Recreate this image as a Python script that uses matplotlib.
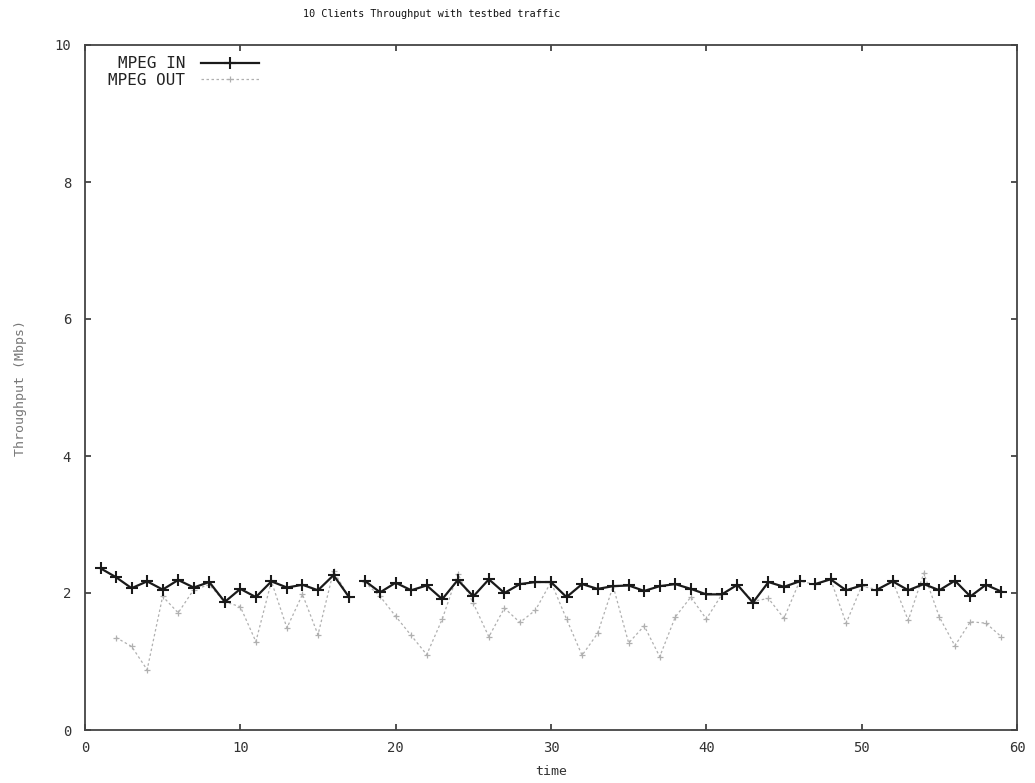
import numpy as np
import matplotlib
matplotlib.use("Agg")
import matplotlib.pyplot as plt

# Sampling instants (s)
time_in = list(range(1, 60))
time_out = list(range(2, 60))

# Measured throughput (Mbps)
mpeg_in = [2.36, 2.23, 2.07, 2.17, 2.05, 2.19, 2.08, 2.16, 1.87, 2.06,
           1.94, 2.17, 2.08, 2.12, 2.04, 2.26, 1.94, 2.18, 2.01, 2.15,
           2.04, 2.11, 1.91, 2.19, 1.95, 2.20, 2.00, 2.13, 2.16, 2.16,
           1.94, 2.13, 2.06, 2.10, 2.11, 2.03, 2.10, 2.13, 2.06, 1.98,
           1.98, 2.12, 1.86, 2.16, 2.09, 2.17, 2.13, 2.20, 2.04, 2.11,
           2.05, 2.17, 2.04, 2.13, 2.04, 2.18, 1.95, 2.12, 2.02]
mpeg_out = [1.35, 1.22, 0.88, 1.95, 1.71, 2.05, 2.12, 1.87, 1.80,
            1.29, 2.17, 1.49, 1.98, 1.39, 2.32, 1.94, 2.16, 1.95, 1.66,
            1.38, 1.10, 1.62, 2.28, 1.85, 1.36, 1.78, 1.57, 1.75, 2.16,
            1.62, 1.09, 1.41, 2.10, 1.27, 1.52, 1.07, 1.65, 1.94, 1.62,
            1.98, 2.12, 1.88, 1.92, 1.63, 2.17, 2.13, 2.20, 1.56, 2.10,
            2.05, 2.17, 1.60, 2.29, 1.65, 1.23, 1.58, 1.56, 1.36]

# Missing samples: the line is broken after these instants
in_breaks = [17, 46, 50]
out_breaks = [17]

x_ticks = [0, 10, 20, 30, 40, 50, 60]
y_ticks = [0, 2, 4, 6, 8, 10]


def with_gaps(t, v, breaks):
    xs, ys = [], []
    for ti, vi in zip(t, v):
        xs.append(ti)
        ys.append(vi)
        if ti in breaks:
            xs.append(ti + 0.5)
            ys.append(np.nan)
    return np.array(xs, float), np.array(ys, float)


mono = "DejaVu Sans Mono"
plt.rcParams["font.family"] = [mono]

fig = plt.figure(figsize=(10.35, 7.83), dpi=100)
ax = fig.add_axes([85 / 1035, 53 / 783, 932 / 1035, 685 / 783])

xi, yi = with_gaps(time_in, mpeg_in, in_breaks)
xo, yo = with_gaps(time_out, mpeg_out, out_breaks)

ax.plot(xo, yo, color="#b0b0b0", lw=0.9, ls=(0, (2, 2)), marker="+",
        ms=5, mew=0.9, label="MPEG OUT", zorder=2)
ax.plot(xi, yi, color="#1a1a1a", lw=1.6, marker="+", ms=8.5, mew=1.5,
        label="MPEG IN", zorder=3)

ax.set_xlim(0, 60)
ax.set_ylim(0, 10)
ax.set_xticks(x_ticks)
ax.set_yticks(y_ticks)
ax.tick_params(direction="in", length=4.5, width=1.2, color="#333333",
               top=True, right=True, labelsize=10, labelcolor="#333333")
ax.tick_params(axis="x", pad=8)
ax.tick_params(axis="y", pad=10)
for sp in ax.spines.values():
    sp.set_linewidth(1.3)
    sp.set_color("#444444")

ax.set_xlabel("time", fontsize=9.5, color="#333333", labelpad=7)
ax.set_ylabel("Throughput (Mbps)", fontsize=9.5, color="#777777",
              labelpad=20)

fig.text(432 / 1035, 1 - 14 / 783, "10 Clients Throughput with testbed traffic",
         ha="center", va="center", fontsize=7.3, color="#111111")

handles, labels = ax.get_legend_handles_labels()
leg = ax.legend(handles[::-1], labels[::-1], loc="upper left",
                bbox_to_anchor=(0.013, 1.0), frameon=False,
                markerfirst=False, fontsize=11.5, handlelength=3.6,
                handletextpad=1.0, labelspacing=0.1, borderaxespad=0.3)
for txt in leg.get_texts():
    txt.set_color("#222222")

fig.savefig("out.png", dpi=100, facecolor="white")
